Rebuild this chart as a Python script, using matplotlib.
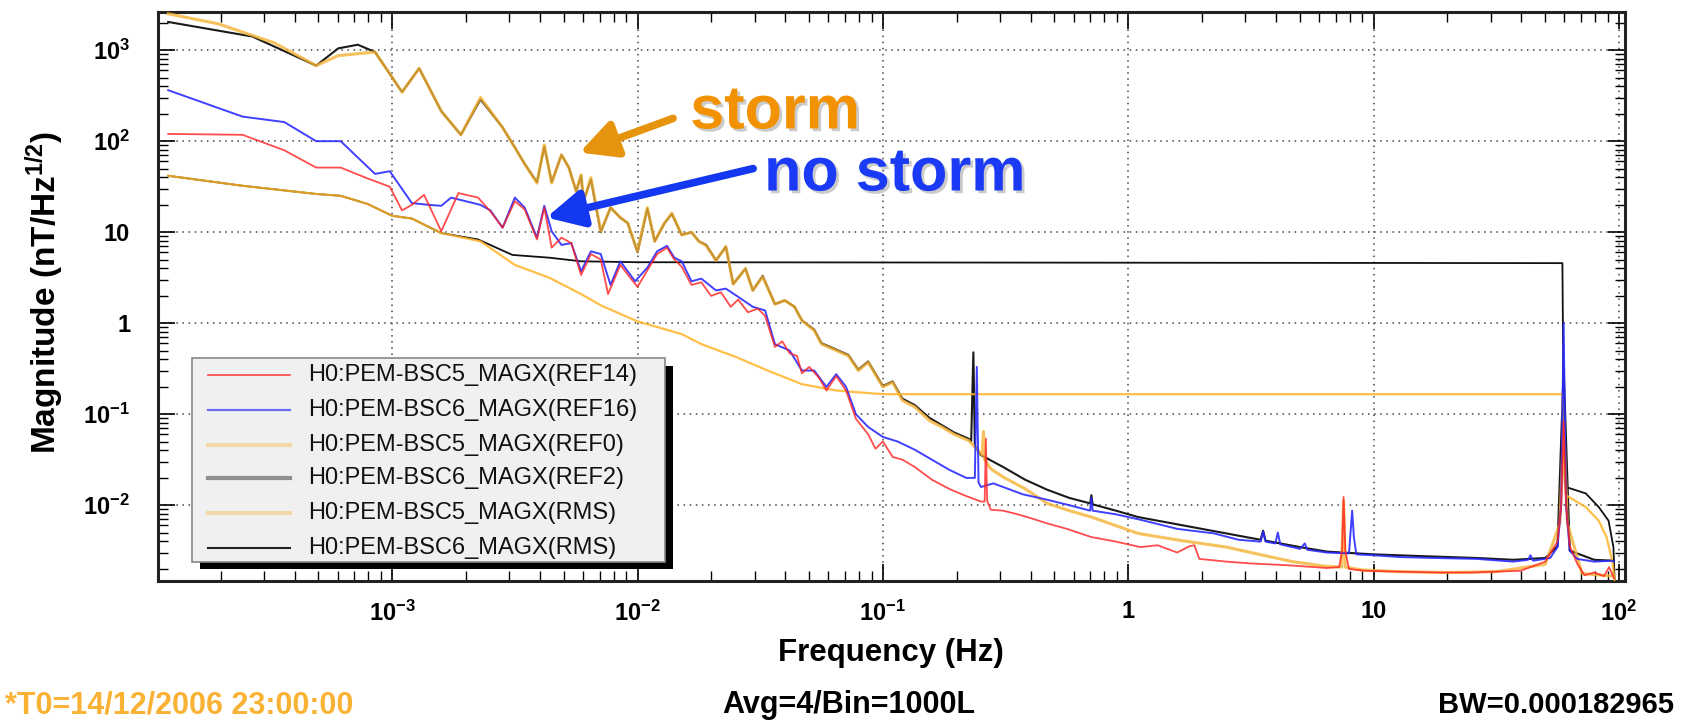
import numpy as np
import matplotlib.pyplot as plt
import matplotlib.patheffects as pe
from matplotlib.patches import Rectangle
from matplotlib.lines import Line2D
from matplotlib.ticker import LogLocator, NullFormatter, FixedLocator

plt.rcParams['font.family'] = ['Liberation Sans', 'DejaVu Sans']
plt.rcParams['mathtext.fontset'] = 'custom'
plt.rcParams['mathtext.rm'] = 'Liberation Sans:bold'
plt.rcParams['mathtext.bf'] = 'Liberation Sans:bold'
plt.rcParams['mathtext.it'] = 'Liberation Sans:bold'

# values, as log10(frequency / Hz) and log10(magnitude)
ref14_logf = [-3.913, -3.61, -3.44, -3.31, -3.21, -3.10, -3.01, -2.96, -2.92, -2.87, -2.80, -2.73, -2.65,
              -2.60, -2.55, -2.50, -2.46, -2.41, -2.38, -2.35, -2.31, -2.27, -2.23, -2.19, -2.15, -2.12,
              -2.07, -2.03, -2.00, -1.96, -1.92, -1.88, -1.85, -1.82, -1.78, -1.74, -1.70, -1.66, -1.62,
              -1.59, -1.55, -1.51, -1.48, -1.44, -1.41, -1.38, -1.35, -1.33, -1.30, -1.26, -1.23, -1.19,
              -1.15, -1.11, -1.06, -1.03, -1.00, -0.96, -0.92, -0.87, -0.80, -0.73, -0.66, -0.60, -0.585,
              -0.58, -0.575, -0.56, -0.51, -0.45, -0.40, -0.33, -0.25, -0.15, -0.05, 0.05, 0.12, 0.20,
              0.25, 0.27, 0.29, 0.40, 0.50, 0.65, 0.81, 0.86, 0.872, 0.878, 0.885, 0.90, 0.96, 1.10,
              1.27, 1.40, 1.50, 1.60, 1.70, 1.75, 1.765, 1.775, 1.785, 1.80, 1.83, 1.86, 1.90, 1.94,
              1.96, 1.98]
ref14_logm = [2.08, 2.07, 1.90, 1.71, 1.71, 1.59, 1.50, 1.24, 1.30, 1.41, 1.01, 1.43, 1.38,
              1.23, 1.05, 1.34, 1.25, 0.92, 1.27, 0.83, 0.94, 0.88, 0.53, 0.76, 0.70, 0.32,
              0.64, 0.50, 0.40, 0.58, 0.76, 0.83, 0.70, 0.62, 0.42, 0.45, 0.30, 0.34, 0.18,
              0.26, 0.12, 0.16, 0.08, -0.26, -0.20, -0.33, -0.36, -0.55, -0.48, -0.60, -0.74, -0.58,
              -0.74, -1.05, -1.22, -1.38, -1.30, -1.47, -1.50, -1.58, -1.72, -1.82, -1.90, -1.96, -1.96,
              -1.27, -1.95, -2.05, -2.06, -2.10, -2.14, -2.20, -2.26, -2.35, -2.40, -2.46, -2.44, -2.52,
              -2.45, -2.44, -2.59, -2.62, -2.64, -2.66, -2.69, -2.68, -2.50, -1.91, -2.50, -2.70, -2.72, -2.73,
              -2.74, -2.74, -2.73, -2.72, -2.62, -2.40, -2.00, -1.08, -2.00, -2.45, -2.64, -2.77, -2.74, -2.78,
              -2.68, -2.80]

ref16_logf = [-3.913, -3.61, -3.44, -3.31, -3.21, -3.07, -3.01, -2.92, -2.85, -2.80, -2.76, -2.70, -2.64,
              -2.60, -2.55, -2.50, -2.46, -2.41, -2.38, -2.35, -2.31, -2.27, -2.23, -2.19, -2.15, -2.11,
              -2.07, -2.01, -1.96, -1.92, -1.88, -1.85, -1.82, -1.78, -1.74, -1.68, -1.64, -1.59, -1.53,
              -1.48, -1.44, -1.38, -1.33, -1.28, -1.23, -1.19, -1.15, -1.11, -1.06, -1.00, -0.94, -0.87,
              -0.80, -0.73, -0.66, -0.625, -0.617, -0.61, -0.60, -0.55, -0.51, -0.43, -0.33, -0.24,
              -0.155, -0.15, -0.145, -0.05, 0.05, 0.20, 0.35, 0.45, 0.54, 0.55, 0.56, 0.60, 0.61, 0.62,
              0.70, 0.72, 0.73, 0.81, 0.90, 0.905, 0.913, 0.92, 0.93, 1.00, 1.11, 1.25, 1.42, 1.57, 1.63,
              1.64, 1.65, 1.72, 1.75, 1.765, 1.775, 1.785, 1.80, 1.83, 1.90, 1.97, 1.98]
ref16_logm = [2.56, 2.27, 2.21, 2.00, 2.00, 1.64, 1.67, 1.32, 1.30, 1.29, 1.38, 1.34, 1.30,
              1.24, 1.05, 1.38, 1.27, 0.94, 1.29, 1.01, 0.86, 0.88, 0.57, 0.79, 0.76, 0.42,
              0.68, 0.46, 0.61, 0.79, 0.85, 0.72, 0.68, 0.46, 0.49, 0.36, 0.38, 0.29, 0.18,
              0.14, -0.23, -0.30, -0.52, -0.52, -0.70, -0.56, -0.70, -1.00, -1.14, -1.25, -1.30, -1.39,
              -1.50, -1.61, -1.70, -1.70, -0.48, -1.75, -1.80, -1.76, -1.80, -1.88, -1.94, -2.00,
              -2.06, -1.92, -2.06, -2.10, -2.16, -2.26, -2.31, -2.38, -2.40, -2.29, -2.40, -2.42, -2.30, -2.43,
              -2.48, -2.42, -2.49, -2.52, -2.53, -2.35, -2.06, -2.35, -2.54, -2.55, -2.57, -2.58, -2.59, -2.62, -2.60,
              -2.55, -2.61, -2.58, -2.46, -2.00, 0.00, -2.00, -2.50, -2.59, -2.62, -2.61, -2.62]

ref0_logf = [-3.913, -3.71, -3.48, -3.31, -3.22, -3.07, -2.96, -2.89, -2.80, -2.72, -2.64, -2.55, -2.50,
             -2.46, -2.41, -2.38, -2.35, -2.31, -2.28, -2.25, -2.23, -2.22, -2.19, -2.15, -2.11, -2.07,
             -2.04, -2.00, -1.96, -1.93, -1.89, -1.86, -1.82, -1.78, -1.75, -1.72, -1.68, -1.64, -1.61,
             -1.56, -1.53, -1.49, -1.44, -1.40, -1.36, -1.33, -1.28, -1.25, -1.19, -1.14, -1.10, -1.06,
             -1.00, -0.96, -0.92, -0.87, -0.81, -0.76, -0.71, -0.65, -0.61, -0.595, -0.59, -0.585, -0.56,
             -0.51, -0.42, -0.33, -0.24, -0.15, 0.04, 0.22, 0.40, 0.55, 0.67, 0.80, 0.87, 0.878, 0.885,
             0.95, 1.10, 1.30, 1.50, 1.70, 1.76, 1.775, 1.79, 1.85, 1.98]
ref0_logm = [3.40, 3.29, 3.08, 2.83, 2.94, 2.98, 2.54, 2.80, 2.33, 2.07, 2.48, 2.15, 1.93,
             1.75, 1.54, 1.96, 1.54, 1.85, 1.71, 1.45, 1.63, 1.34, 1.60, 1.01, 1.27, 1.16,
             1.10, 0.79, 1.27, 0.90, 1.10, 1.21, 0.97, 1.00, 0.90, 0.85, 0.69, 0.84, 0.43,
             0.60, 0.36, 0.51, 0.21, 0.25, 0.18, 0.03, -0.08, -0.23, -0.30, -0.36, -0.52, -0.43,
             -0.70, -0.65, -0.85, -0.92, -1.07, -1.14, -1.22, -1.29, -1.40, -1.45, -1.19, -1.50, -1.60,
             -1.69, -1.82, -1.98, -2.06, -2.13, -2.31, -2.39, -2.46, -2.55, -2.62, -2.67, -2.68, -1.95, -2.68,
             -2.71, -2.73, -2.74, -2.73, -2.65, -2.20, -1.10, -2.20, -2.75, -2.78]

ref2_logf = [-3.913, -3.57, -3.31, -3.22, -3.14, -3.07, -2.96, -2.89, -2.80, -2.72, -2.64, -2.55, -2.50,
             -2.46, -2.41, -2.38, -2.35, -2.31, -2.28, -2.25, -2.23, -2.22, -2.19, -2.15, -2.11, -2.07,
             -2.04, -2.00, -1.96, -1.93, -1.89, -1.86, -1.82, -1.78, -1.75, -1.72, -1.68, -1.64, -1.61,
             -1.56, -1.53, -1.49, -1.44, -1.40, -1.36, -1.33, -1.28, -1.25, -1.19, -1.14, -1.10, -1.06,
             -1.00, -0.96, -0.92, -0.87, -0.81, -0.76, -0.71, -0.65, -0.64, -0.631, -0.625, -0.60, -0.51,
             -0.42, -0.33, -0.24, -0.155, -0.15, -0.145, -0.05, 0.04, 0.22, 0.40, 0.54, 0.55, 0.56, 0.70,
             0.81, 1.00, 1.20, 1.42, 1.57, 1.70, 1.75, 1.775, 1.80, 1.90, 1.98]
ref2_logm = [3.31, 3.15, 2.83, 3.02, 3.06, 2.98, 2.54, 2.80, 2.33, 2.07, 2.46, 2.15, 1.93,
             1.75, 1.55, 1.94, 1.55, 1.85, 1.71, 1.45, 1.62, 1.34, 1.58, 1.00, 1.27, 1.16,
             1.10, 0.78, 1.26, 0.90, 1.10, 1.20, 0.97, 1.00, 0.90, 0.86, 0.69, 0.84, 0.43,
             0.60, 0.36, 0.52, 0.21, 0.25, 0.18, 0.03, -0.07, -0.22, -0.29, -0.35, -0.51, -0.42,
             -0.69, -0.64, -0.83, -0.90, -1.04, -1.12, -1.20, -1.27, -1.30, -0.32, -1.35, -1.45, -1.58,
             -1.72, -1.83, -1.92, -1.98, -1.89, -1.99, -2.06, -2.13, -2.22, -2.31, -2.38, -2.28, -2.39, -2.46,
             -2.51, -2.54, -2.56, -2.58, -2.60, -2.58, -2.45, -0.50, -2.50, -2.60, -2.61]

rms5_logf = [-3.913, -3.61, -3.31, -3.21, -3.10, -3.00, -2.92, -2.80, -2.64, -2.50, -2.36, -2.23, -2.145,
             -2.00, -1.82, -1.74, -1.60, -1.47, -1.33, -1.19, -1.05, -0.99, 1.77, 1.775, 1.784, 1.865,
             1.918, 1.95, 1.975, 1.983]
rms5_logm = [1.62, 1.51, 1.42, 1.40, 1.31, 1.18, 1.15, 0.99, 0.90, 0.64, 0.50, 0.32, 0.19,
             0.02, -0.12, -0.23, -0.37, -0.52, -0.67, -0.74, -0.77, -0.78, -0.78, -1.50, -1.89, -2.02,
             -2.17, -2.35, -2.64, -2.85]

rms6_logf = [-3.913, -3.61, -3.31, -3.21, -3.10, -3.00, -2.92, -2.80, -2.65, -2.51, -2.36, -2.23, -2.00,
             1.77, 1.772, 1.775, 1.78, 1.784, 1.865, 1.918, 1.958, 1.978, 1.983]
rms6_logm = [1.62, 1.51, 1.42, 1.40, 1.31, 1.18, 1.15, 0.99, 0.92, 0.75, 0.72, 0.68, 0.67,
             0.66, 0.00, -1.00, -1.78, -1.80, -1.87, -2.02, -2.17, -2.46, -2.85]

labels = ['H0:PEM-BSC5_MAGX(REF14)', 'H0:PEM-BSC6_MAGX(REF16)', 'H0:PEM-BSC5_MAGX(REF0)',
          'H0:PEM-BSC6_MAGX(REF2)', 'H0:PEM-BSC5_MAGX(RMS)', 'H0:PEM-BSC6_MAGX(RMS)']

x_ticks = [1e-3, 1e-2, 1e-1, 1, 10, 100]
x_ticklabels = [r'$10^{-3}$', r'$10^{-2}$', r'$10^{-1}$', '1', '10', r'$10^{2}$']
y_ticks = [1e-2, 1e-1, 1, 10, 100, 1000]
y_ticklabels = [r'$10^{-2}$', r'$10^{-1}$', '1', '10', r'$10^{2}$', r'$10^{3}$']


def un(v):
    return 10 ** np.asarray(v)


fig = plt.figure(figsize=(16.88, 7.21), dpi=100)
ax = fig.add_axes([0.0936, 0.1942, 0.8691, 0.789])
ax.set_xscale('log')
ax.set_yscale('log')

# storm spectra first, then rms, then quiet spectra on top
ax.plot(un(ref2_logf), un(ref2_logm), color='#1a1a1a', lw=1.5, zorder=3)
ax.plot(un(ref0_logf), un(ref0_logm), color='#f5b335', lw=2.2, alpha=0.8, zorder=4)
ax.plot(un(rms6_logf), un(rms6_logm), color='#111111', lw=1.3, zorder=3)
ax.plot(un(rms5_logf), un(rms5_logm), color='#ffb429', lw=1.6, alpha=0.85, zorder=4)
ax.plot(un(ref16_logf), un(ref16_logm), color='#2b2bff', lw=1.4, alpha=0.9, zorder=5)
ax.plot(un(ref14_logf), un(ref14_logm), color='#ff2020', lw=1.3, alpha=0.8, zorder=6)

ax.set_xlim(1.11e-4, 106)
ax.set_ylim(1.47e-3, 2620)

ax.xaxis.set_major_locator(FixedLocator(x_ticks))
ax.set_xticklabels(x_ticklabels, fontsize=17, fontweight='bold')
ax.yaxis.set_major_locator(FixedLocator(y_ticks))
ax.set_yticklabels(y_ticklabels, fontsize=17, fontweight='bold')
ax.xaxis.set_minor_locator(LogLocator(base=10, subs=np.arange(2, 10), numticks=100))
ax.yaxis.set_minor_locator(LogLocator(base=10, subs=np.arange(2, 10), numticks=100))
ax.xaxis.set_minor_formatter(NullFormatter())
ax.yaxis.set_minor_formatter(NullFormatter())
ax.tick_params(which='major', direction='in', length=12, width=1.2, top=True, right=True)
ax.tick_params(axis='x', which='major', pad=14)
ax.tick_params(axis='y', which='major', pad=20)
ax.tick_params(which='minor', direction='in', length=7, width=1.0, top=True, right=True)
ax.grid(True, which='major', linestyle=(0, (1, 3)), color='#444444', lw=1.1)
for s in ax.spines.values():
    s.set_linewidth(2.2)
    s.set_color('#222222')

# legend drawn by hand, ROOT style with a hard shadow
ax.add_patch(Rectangle((0.0286, 0.021), 0.3224, 0.357, transform=ax.transAxes,
                       facecolor='black', edgecolor='none', zorder=8))
ax.add_patch(Rectangle((0.0232, 0.0334), 0.3224, 0.3586, transform=ax.transAxes,
                       facecolor='#f0f0f0', edgecolor='#888888', lw=1.2, zorder=9))
leg_styles = [('#ff3030', 1.2, 0.9), ('#3333ff', 1.6, 0.7), ('#f7c978', 3.0, 0.6),
              ('#777777', 3.0, 0.8), ('#f7c978', 3.0, 0.6), ('#222222', 1.5, 1.0)]
row_y = [0.362, 0.3005, 0.239, 0.181, 0.1195, 0.058]
for lab, (c, w, a), yy in zip(labels, leg_styles, row_y):
    ax.add_line(Line2D([0.0341, 0.090], [yy, yy], transform=ax.transAxes, color=c, lw=w,
                       alpha=a, zorder=10))
    ax.text(0.1023, yy, lab, transform=ax.transAxes, fontsize=17, va='center', ha='left',
            color='#111111', zorder=10)

# annotations
shadow = [pe.withSimplePatchShadow(offset=(2, -2), shadow_rgbFace='#999999', alpha=0.5)]
ax.annotate('', xy=(5.8e-3, 75), xytext=(0.01396, 178), zorder=11,
            arrowprops=dict(arrowstyle='-|>,head_length=0.55,head_width=0.28', color='#e6930e',
                            lw=5.5, mutation_scale=40, shrinkA=0, shrinkB=0))
ax.annotate('', xy=(4.25e-3, 14.5), xytext=(0.0296, 50), zorder=11,
            arrowprops=dict(arrowstyle='-|>,head_length=0.55,head_width=0.28', color='#1437f0',
                            lw=5.5, mutation_scale=40, shrinkA=0, shrinkB=0))
ax.text(0.0164, 138, 'storm', fontsize=44, fontweight='bold', color='#f39200',
        ha='left', va='baseline', zorder=11, path_effects=shadow)
ax.text(0.0328, 28.7, 'no storm', fontsize=44, fontweight='bold', color='#1a3af5',
        ha='left', va='baseline', zorder=11, path_effects=shadow)

fig.text(0.0262, 0.594, r'Magnitude (nT/Hz$^{1/2}$)', rotation=90, ha='center', va='center',
         fontsize=24, fontweight='bold')
fig.text(0.528, 0.094, 'Frequency (Hz)', ha='center', va='center', fontsize=22.5, fontweight='bold')
fig.text(0.003, 0.022, '*T0=14/12/2006 23:00:00', ha='left', va='center', fontsize=22,
         fontweight='bold', color='#f9b233')
fig.text(0.503, 0.022, 'Avg=4/Bin=1000L', ha='center', va='center', fontsize=22, fontweight='bold')
fig.text(0.9917, 0.022, 'BW=0.000182965', ha='right', va='center', fontsize=21, fontweight='bold')

fig.savefig('out.png', dpi=100)
